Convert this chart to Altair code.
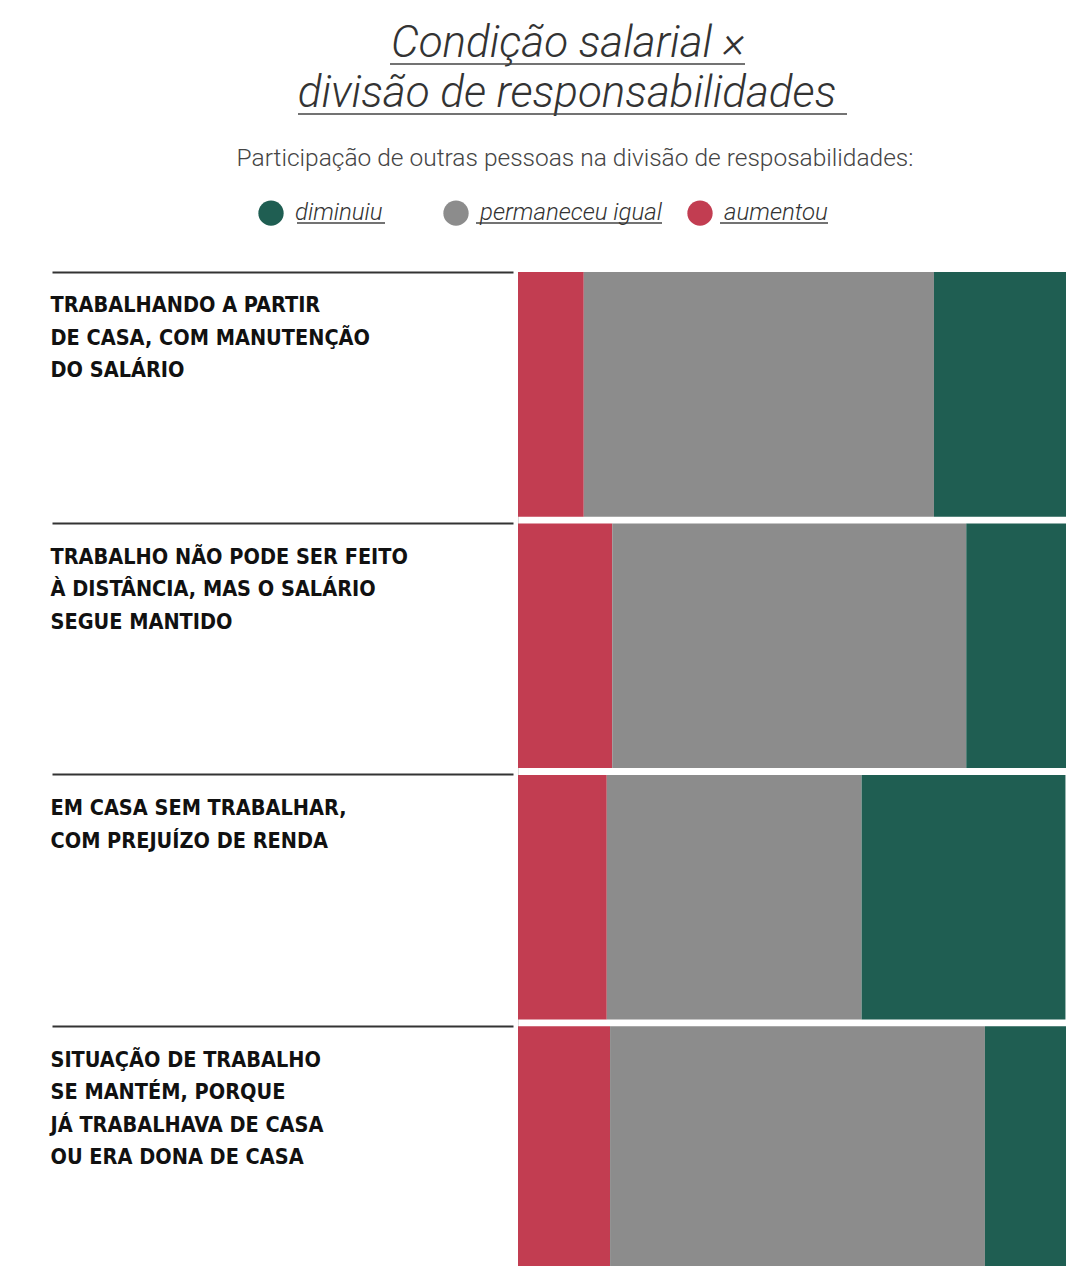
import altair as alt
import pandas as pd

title_lines = ["Condição salarial ×", "divisão de responsabilidades"]
subtitle = "Participação de outras pessoas na divisão de resposabilidades:"
categories = [
    "TRABALHANDO A PARTIR|DE CASA, COM MANUTENÇÃO|DO SALÁRIO",
    "TRABALHO NÃO PODE SER FEITO|À DISTÂNCIA, MAS O SALÁRIO|SEGUE MANTIDO",
    "EM CASA SEM TRABALHAR,|COM PREJUÍZO DE RENDA",
    "SITUAÇÃO DE TRABALHO|SE MANTÉM, PORQUE|JÁ TRABALHAVA DE CASA|OU ERA DONA DE CASA",
]
series = ["diminuiu", "permaneceu igual", "aumentou"]
aumentou = [12.0, 17.2, 16.2, 16.8]
permaneceu = [63.9, 64.6, 46.5, 68.4]
diminuiu = [24.1, 18.2, 37.2, 14.8]
colors = ["#1F5E52", "#8C8C8C", "#C23D51"]
stack_order = {"aumentou": 0, "permaneceu igual": 1, "diminuiu": 2}

rows = []
for i, c in enumerate(categories):
    for name, vals in (("aumentou", aumentou), ("permaneceu igual", permaneceu), ("diminuiu", diminuiu)):
        rows.append({"cond": c, "resp": name, "value": vals[i], "ord": stack_order[name]})
df = pd.DataFrame(rows)

label_font = "Liberation Sans Narrow, DejaVu Sans Condensed, Roboto, sans-serif"
blank = "\u2800" * 2  # invisible, non-trimmed padding after the first legend entry

bars = alt.Chart(df).mark_bar().encode(
    x=alt.X("value:Q", stack="zero", scale=alt.Scale(domain=[0, 100], nice=False), axis=None),
    y=alt.Y(
        "cond:N",
        sort=categories,
        scale=alt.Scale(paddingInner=0.027, paddingOuter=0),
        axis=alt.Axis(
            title=None,
            domain=False,
            bandPosition=0,
            offset=5,
            tickSize=461,
            tickColor="#333333",
            tickWidth=2,
            labelPadding=2,
            labelAlign="left",
            labelBaseline="top",
            labelOffset=-99,
            labelExpr="split(datum.label, '|')",
            labelLineHeight=32.5,
            labelFont=label_font,
            labelFontSize=21.5,
            labelFontWeight="bold",
            labelColor="#111111",
            labelLimit=470,
        ),
    ),
    color=alt.Color(
        "resp:N",
        scale=alt.Scale(domain=series, range=colors),
        legend=alt.Legend(
            title=None,
            orient="none",
            legendX=-260,
            legendY=-72,
            direction="horizontal",
            symbolType="circle",
            symbolSize=640,
            symbolStrokeWidth=0,
            symbolOpacity=1,
            labelFont="Roboto",
            labelFontStyle="italic",
            labelFontWeight=300,
            labelFontSize=24,
            labelColor="#333333",
            labelOffset=11,
            labelLimit=300,
            labelExpr="datum.label == 'diminuiu' ? 'diminuiu" + blank + "' : datum.label",
            columnPadding=24,
        ),
    ),
    order=alt.Order("ord:Q"),
)

one = pd.DataFrame({"k": [0]})


def underline(x1, x2, y):
    return alt.Chart(one).mark_rule(color="#444444", strokeWidth=1.5).encode(
        x=alt.value(x1), x2=alt.value(x2), y=alt.value(y)
    )


def header_text(txt, x, y, size, style, weight, color):
    return alt.Chart(one).mark_text(
        text=txt, font="Roboto", fontSize=size, fontStyle=style, fontWeight=weight,
        color=color, align="center", baseline="alphabetic",
    ).encode(x=alt.value(x), y=alt.value(y))


texts = [
    header_text(title_lines[0], 568 - 518, 57 - 272, 44, "italic", 300, "#333333"),
    header_text(title_lines[1], 567 - 518, 107 - 272, 44, "italic", 300, "#333333"),
    header_text(subtitle, 575 - 518, 166 - 272, 24.5, "normal", 300, "#444444"),
]

lines = [
    underline(390 - 518, 745 - 518, 64 - 272),
    underline(298 - 518, 847 - 518, 114 - 272),
    underline(297 - 518, 385 - 518, 223 - 272),
    underline(476 - 518, 662 - 518, 223 - 272),
    underline(720 - 518, 828 - 518, 223 - 272),
]

chart = alt.layer(bars, *texts, *lines).properties(
    width=548,
    height=999,
    padding={"left": 518, "top": 272, "right": 0, "bottom": 0},
    autosize=alt.AutoSizeParams(type="none"),
).configure_view(stroke=None).configure(background="white")

chart.save("out.html", embed_options={"renderer": "svg", "actions": False})
